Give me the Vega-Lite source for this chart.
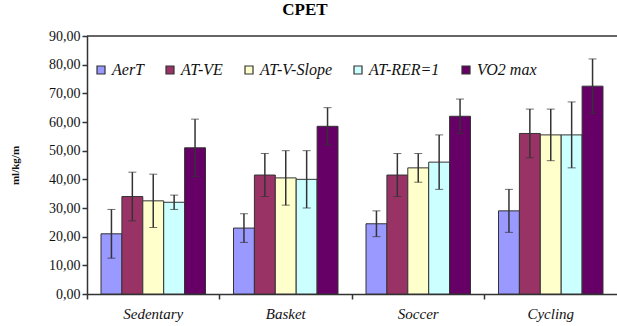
{
  "$schema": "https://vega.github.io/schema/vega-lite/v6.json",
  "width": 530,
  "height": 258,
  "autosize": {"type": "none"},
  "padding": {"left": 87, "top": 36, "right": 0, "bottom": 32},
  "background": "white",
  "view": {"stroke": null},
  "title": {"text": "CPET", "font": "Liberation Serif", "fontSize": 17, "fontWeight": "bold", "color": "#000", "anchor": "middle", "offset": 10, "dx": -47},
  "config": {
    "axisY": {"values": [0, 10, 20, 30, 40, 50, 60, 70, 80, 90], "labelOverlap": false, "tickCount": 10}
  },
  "data": {"values": [
    {"group": "Sedentary", "series": "AerT", "value": 21, "err": 8.5},
    {"group": "Sedentary", "series": "AT-VE", "value": 34, "err": 8.5},
    {"group": "Sedentary", "series": "AT-V-Slope", "value": 32.5, "err": 9.3},
    {"group": "Sedentary", "series": "AT-RER=1", "value": 32, "err": 2.5},
    {"group": "Sedentary", "series": "VO2 max", "value": 51, "err": 10},
    {"group": "Basket", "series": "AerT", "value": 23, "err": 5},
    {"group": "Basket", "series": "AT-VE", "value": 41.5, "err": 7.5},
    {"group": "Basket", "series": "AT-V-Slope", "value": 40.5, "err": 9.5},
    {"group": "Basket", "series": "AT-RER=1", "value": 40, "err": 10},
    {"group": "Basket", "series": "VO2 max", "value": 58.5, "err": 6.5},
    {"group": "Soccer", "series": "AerT", "value": 24.5, "err": 4.5},
    {"group": "Soccer", "series": "AT-VE", "value": 41.5, "err": 7.5},
    {"group": "Soccer", "series": "AT-V-Slope", "value": 44, "err": 5},
    {"group": "Soccer", "series": "AT-RER=1", "value": 46, "err": 9.5},
    {"group": "Soccer", "series": "VO2 max", "value": 62, "err": 6},
    {"group": "Cycling", "series": "AerT", "value": 29, "err": 7.5},
    {"group": "Cycling", "series": "AT-VE", "value": 56, "err": 8.5},
    {"group": "Cycling", "series": "AT-V-Slope", "value": 55.5, "err": 9},
    {"group": "Cycling", "series": "AT-RER=1", "value": 55.5, "err": 11.5},
    {"group": "Cycling", "series": "VO2 max", "value": 72.5, "err": 9.5}
  ]},
  "encoding": {
    "x": {"field": "group", "type": "nominal", "sort": ["Sedentary", "Basket", "Soccer", "Cycling"],
      "scale": {"paddingInner": 0, "paddingOuter": 0},
      "axis": {"title": null, "labelAngle": 0, "labelFont": "Liberation Serif", "labelFontStyle": "italic", "labelFontSize": 15, "labelColor": "#111", "labelPadding": 7, "bandPosition": 0, "tickSize": 5, "tickColor": "#333", "domainColor": "#333", "domainWidth": 1.5, "tickWidth": 1.5}},
    "xOffset": {"field": "series", "type": "nominal", "sort": ["AerT", "AT-VE", "AT-V-Slope", "AT-RER=1", "VO2 max"], "scale": {"paddingInner": 0, "paddingOuter": 0.67}},
    "y": {"field": "value", "type": "quantitative",
      "scale": {"domain": [0, 90], "nice": false, "zero": true},
      "axis": {"title": "ml/kg/m", "titleFont": "Liberation Serif", "titleFontSize": 11, "titleFontWeight": "bold", "titleColor": "#111", "titlePadding": 28,
        "values": [0, 10, 20, 30, 40, 50, 60, 70, 80, 90], "labelOverlap": false, "format": ".2f", "labelExpr": "replace(datum.label, '.', ',')",
        "labelFont": "Liberation Serif", "labelFontSize": 14, "labelColor": "#111", "grid": false, "tickSize": 5, "tickColor": "#333", "domainColor": "#333", "domainWidth": 1.5, "tickWidth": 1.5}}
  },
  "layer": [
    {
      "mark": {"type": "bar", "stroke": "#333", "strokeWidth": 1},
      "encoding": {
        "color": {"field": "series", "type": "nominal", "sort": ["AerT", "AT-VE", "AT-V-Slope", "AT-RER=1", "VO2 max"],
          "scale": {"domain": ["AerT", "AT-VE", "AT-V-Slope", "AT-RER=1", "VO2 max"], "range": ["#9999FF", "#993366", "#FFFFCC", "#CCFFFF", "#660066"]},
          "legend": {"title": null, "orient": "none", "legendX": 6, "legendY": 26, "direction": "horizontal", "columns": 5, "symbolType": "square", "symbolSize": 64, "symbolStrokeColor": "#333", "symbolStrokeWidth": 1.2, "labelFont": "Liberation Serif", "labelFontStyle": "italic", "labelFontSize": 16, "labelColor": "#111", "columnPadding": 18, "labelOffset": 3}}
      }
    },
    {
      "mark": {"type": "errorbar", "ticks": {"size": 8, "color": "#333", "strokeWidth": 1.5}, "rule": {"color": "#333", "strokeWidth": 1.5}},
      "encoding": {
        "yError": {"field": "err"}
      }
    },
    {
      "data": {"values": [{"top": 90}]},
      "mark": {"type": "rule", "color": "#333", "strokeWidth": 1.5},
      "encoding": {"x": null, "xOffset": null, "y": {"field": "top", "type": "quantitative"}}
    }
  ]
}
